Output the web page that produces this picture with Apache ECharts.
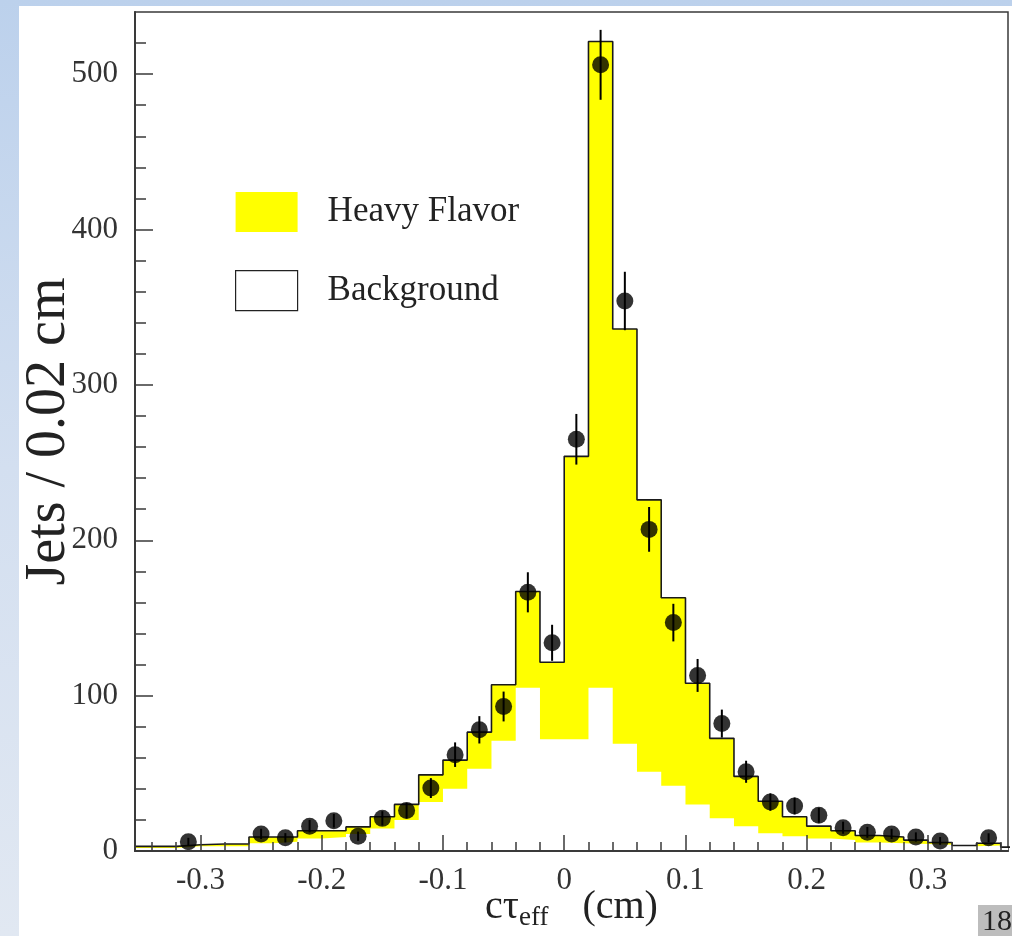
<!DOCTYPE html>
<html>
<head>
<meta charset="utf-8">
<script src="https://cdn.jsdelivr.net/npm/echarts@6/dist/echarts.min.js"></script>
<style>
  html, body { margin: 0; padding: 0; }
  body { width: 1012px; height: 936px; overflow: hidden; position: relative;
         background: linear-gradient(to bottom, #bcd1ec 0%, #d3dff0 50%, #e1e8f2 100%); }
  #sheet { position: absolute; left: 19px; top: 6px; right: 0; bottom: 0; background: #fff; }
  #main { position: absolute; left: 0; top: 0; width: 1012px; height: 936px; }
</style>
</head>
<body>
<div id="sheet"></div>
<div id="main"></div>
<script>
// bin centres (width 0.02 cm)
var binCenters = [-0.35, -0.33, -0.31, -0.29, -0.27, -0.25, -0.23, -0.21, -0.19, -0.17,
                  -0.15, -0.13, -0.11, -0.09, -0.07, -0.05, -0.03, -0.01, 0.01, 0.03,
                  0.05, 0.07, 0.09, 0.11, 0.13, 0.15, 0.17, 0.19, 0.21, 0.23,
                  0.25, 0.27, 0.29, 0.31, 0.33, 0.35, 0.37];
// heavy flavor + background (stacked total)
var totalMC = [3, 3, 4, 4.5, 4.5, 9, 9, 13, 13, 15.5,
               22, 30, 49, 58.5, 76.5, 107, 167, 121.5, 254, 521,
               336, 226, 163, 108, 72.5, 48, 32, 22, 16, 13,
               10, 9, 7, 5.5, 3.5, 5, 2.5];
// background only
var backgroundMC = [2, 2, 3, 3, 3, 5, 6, 8, 9, 11,
                    14.5, 20, 31.5, 40, 53, 71, 105, 72, 72, 105,
                    69, 51, 42, 30, 21, 16, 11.5, 9.5, 8, 7,
                    5.5, 5, 4.5, 4, 3, 3.5, 2];
// data points
var dataX   = [-0.31, -0.25, -0.23, -0.21, -0.19, -0.17, -0.15, -0.13, -0.11, -0.09,
               -0.07, -0.05, -0.03, -0.01, 0.01, 0.03, 0.05, 0.07, 0.09, 0.11,
               0.13, 0.15, 0.17, 0.19, 0.21, 0.23, 0.25, 0.27, 0.29, 0.31, 0.35];
var dataY   = [6, 11, 8.5, 16, 19.5, 9.5, 21, 26, 40.5, 62,
               78, 93, 166.5, 134, 265, 506, 354, 207, 147, 113,
               82, 51, 31.5, 29, 23, 15, 12, 11, 9, 6.5, 8.5];
var dataErr = [2.5, 3.3, 3, 4, 4.4, 3, 4.6, 5, 6.4, 7.9,
               8.8, 9.6, 12.9, 11.6, 16.3, 22.5, 18.8, 14.4, 12.1, 10.6,
               9, 7.1, 5.6, 5.4, 4.8, 3.9, 3.5, 3.3, 3, 2.5, 2.9];
// axis ticks
var xMajor = [-0.3, -0.2, -0.1, 0, 0.1, 0.2, 0.3];
var xMinor = [-0.34, -0.32, -0.28, -0.26, -0.24, -0.22, -0.18, -0.16, -0.14, -0.12,
              -0.08, -0.06, -0.04, -0.02, 0.02, 0.04, 0.06, 0.08, 0.12, 0.14,
              0.16, 0.18, 0.22, 0.24, 0.26, 0.28, 0.32, 0.34, 0.36];
var yMajor = [0, 100, 200, 300, 400, 500];
var yMinor = [20, 40, 60, 80, 120, 140, 160, 180, 220, 240, 260, 280,
              320, 340, 360, 380, 420, 440, 460, 480, 520];

var halfBin = 0.01;
function stepData(vals) {
  var out = binCenters.map(function (c, i) { return [c - halfBin, vals[i]]; });
  out.push([binCenters[binCenters.length - 1] + halfBin, vals[vals.length - 1]]);
  return out;
}

var serif = 'Liberation Serif, Times New Roman, serif';
var axisColor = '#3a3a3a';

var myChart = echarts.init(document.getElementById('main'));
myChart.setOption({
  animation: false,
  backgroundColor: 'transparent',
  grid: {
    left: 135, top: 12, right: 4, bottom: 85,
    outerBoundsMode: 'none', containLabel: false,
    show: true, borderColor: axisColor, borderWidth: 1.5, backgroundColor: 'transparent'
  },
  legend: {
    orient: 'vertical',
    left: 235, top: 192,
    itemWidth: 62, itemHeight: 40, itemGap: 38,
    padding: 0,
    textStyle: { fontFamily: serif, fontSize: 35, color: '#222', padding: [0, 0, 0, 25] },
    data: [
      { name: 'Heavy Flavor', icon: 'rect', itemStyle: { color: '#ffff00', borderWidth: 0 } },
      { name: 'Background', icon: 'rect', itemStyle: { color: '#ffffff', borderColor: '#222', borderWidth: 1.2 } }
    ]
  },
  xAxis: [{
    type: 'value', min: -0.354, max: 0.366, z: 10,
    axisLine: { onZero: false, lineStyle: { color: axisColor, width: 2 } },
    axisTick: { inside: true, length: 16, customValues: xMajor, lineStyle: { color: axisColor, width: 1.5 } },
    axisLabel: { customValues: xMajor, fontFamily: serif, fontSize: 31, color: '#333', margin: 14 },
    splitLine: { show: false },
    name: '{m|cτ}{s|eff}{u|(cm)}',
    nameLocation: 'middle', nameGap: 33, nameMoveOverlap: false,
    nameTextStyle: {
      rich: {
        m: { fontFamily: serif, fontSize: 40, color: '#222', lineHeight: 46 },
        u: { fontFamily: serif, fontSize: 40, color: '#222', lineHeight: 46, padding: [0, 0, 0, 34] },
        s: { fontFamily: serif, fontSize: 27, color: '#222', lineHeight: 46, padding: [22, 0, 0, 0] }
      }
    }
  }, {
    type: 'value', min: -0.354, max: 0.366, z: 10, position: 'bottom',
    axisLine: { show: false, onZero: false },
    axisTick: { inside: true, length: 9, customValues: xMinor, lineStyle: { color: axisColor, width: 1.5 } },
    axisLabel: { show: false },
    splitLine: { show: false }
  }],
  yAxis: [{
    type: 'value', min: 0, max: 540, z: 10,
    axisLine: { show: true, onZero: false, lineStyle: { color: axisColor, width: 2 } },
    axisTick: { show: true, inside: true, length: 18, customValues: yMajor, lineStyle: { color: axisColor, width: 1.5 } },
    axisLabel: { customValues: yMajor, fontFamily: serif, fontSize: 31, color: '#333', margin: 17 },
    splitLine: { show: false },
    name: 'Jets / 0.02 cm',
    nameLocation: 'middle', nameRotate: 90, nameGap: 58, nameMoveOverlap: false,
    nameTextStyle: { fontFamily: serif, fontSize: 56, color: '#222' }
  }, {
    type: 'value', min: 0, max: 540, z: 10, position: 'left',
    axisLine: { show: false, onZero: false },
    axisTick: { show: true, inside: true, length: 11, customValues: yMinor, lineStyle: { color: axisColor, width: 1.5 } },
    axisLabel: { show: false },
    splitLine: { show: false }
  }],
  series: [{
    name: 'Heavy Flavor',
    type: 'line', step: 'end', symbol: 'none', z: 2,
    data: stepData(totalMC),
    lineStyle: { width: 0 },
    itemStyle: { color: '#ffff00' },
    areaStyle: { color: '#ffff00', opacity: 1 }
  }, {
    name: 'Background',
    type: 'line', step: 'end', symbol: 'none', z: 3,
    data: stepData(backgroundMC),
    lineStyle: { width: 0 },
    itemStyle: { color: '#ffffff' },
    areaStyle: { color: '#ffffff', opacity: 1 }
  }, {
    name: 'Total',
    type: 'line', step: 'end', symbol: 'none', z: 4,
    data: stepData(totalMC),
    lineStyle: { color: '#1a1a1a', width: 1.6 }
  }, {
    name: 'Data errors',
    type: 'custom', z: 5,
    data: dataX.map(function (x, i) { return [x, dataY[i], dataErr[i]]; }),
    renderItem: function (params, api) {
      var lo = api.coord([api.value(0), api.value(1) - api.value(2)]);
      var hi = api.coord([api.value(0), api.value(1) + api.value(2)]);
      return { type: 'line', shape: { x1: lo[0], y1: lo[1], x2: hi[0], y2: hi[1] },
               style: { stroke: '#000', lineWidth: 2 } };
    }
  }, {
    name: 'Data',
    type: 'scatter', z: 6,
    symbol: 'circle', symbolSize: 17,
    itemStyle: { color: '#000' },
    data: dataX.map(function (x, i) { return [x, dataY[i]]; })
  }],
  graphic: [{
    type: 'rect', left: 978, top: 905, shape: { width: 40, height: 40 },
    style: { fill: '#bdbdbd' }, z: 1
  }, {
    type: 'text', left: 982, top: 907, z: 2,
    style: { text: '18', fontFamily: serif, fontSize: 30, fill: '#222' }
  }]
});
window.onresize = function () { myChart.resize(); };
</script>
</body>
</html>
